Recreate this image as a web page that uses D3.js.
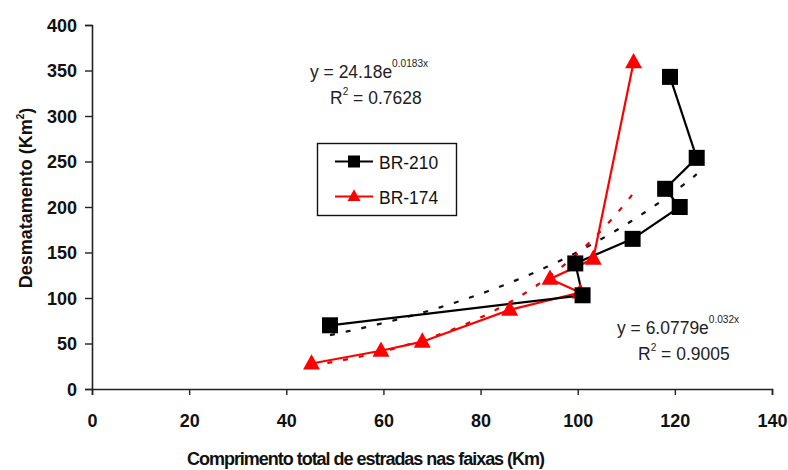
<!DOCTYPE html>
<html><head><meta charset="utf-8">
<script src="https://cdn.jsdelivr.net/npm/d3@7"></script>
<style>
body{margin:0;background:#fff;}
svg{display:block;}
.narrow{font-family:"Liberation Sans Narrow","Arial Narrow","Liberation Sans",sans-serif;}
.bold{font-family:"Liberation Sans",Arial,sans-serif;font-weight:bold;}
</style></head>
<body>
<script>
// ---- data ----
const br210X = [49, 101, 99.5, 111.3, 121, 118, 124.5, 119];
const br210Y = [70, 103, 138, 165, 200, 220, 254, 343];
const br174X = [45.2, 59.5, 68, 86, 100.5, 94.3, 103.2, 111.5];
const br174Y = [28, 42, 52, 87, 106, 121, 143, 359];
const seriesNames = ["BR-210", "BR-174"];
const trendCoef = [24.18, 6.0779];      // y = a * e^(b x)
const trendExp = [0.0183, 0.032];
const trendLabels = ["24.18", "6.0779"];
const trendExpLabels = ["0.0183x", "0.032x"];
const r2Labels = ["0.7628", "0.9005"];
const xTicks = [0, 20, 40, 60, 80, 100, 120, 140];
const yTicks = [0, 50, 100, 150, 200, 250, 300, 350, 400];

const W = 788, H = 470;
const svg = d3.select("body").append("svg").attr("width", W).attr("height", H);
const x = d3.scaleLinear().domain([0, 140]).range([92, 772]);
const y = d3.scaleLinear().domain([0, 400]).range([389, 25]);

// axes
const xAxis = d3.axisBottom(x).tickValues(xTicks).tickSize(6).tickPadding(19);
const yAxis = d3.axisLeft(y).tickValues(yTicks).tickSize(7).tickPadding(8);
const gx = svg.append("g").attr("transform", "translate(0,389)").call(xAxis);
const gy = svg.append("g").attr("transform", "translate(92,0)").call(yAxis);
[gx, gy].forEach(g => {
  g.select(".domain").attr("stroke", "#222").attr("stroke-width", 1.6);
  g.selectAll(".tick line").attr("stroke", "#222").attr("stroke-width", 1.4);
  g.selectAll(".tick text").attr("class", "bold").attr("font-size", 18).attr("fill", "#111");
});
gy.selectAll(".tick text").attr("dy", "0.36em");

// axis titles
svg.append("text").attr("class", "bold").attr("x", 366).attr("y", 465)
  .attr("text-anchor", "middle").attr("font-size", 18).attr("fill", "#111")
  .attr("textLength", 358).attr("lengthAdjust", "spacing")
  .text("Comprimento total de estradas nas faixas (Km)");
const yt = svg.append("text").attr("class", "bold")
  .attr("transform", "translate(32,198) rotate(-90)")
  .attr("text-anchor", "middle").attr("font-size", 18).attr("fill", "#111");
yt.append("tspan").text("Desmatamento (Km");
yt.append("tspan").attr("font-size", 10).attr("dy", -8).text("2");
yt.append("tspan").attr("dy", 8).text(")");

// trend lines (dashed exponential fits)
const trendColors = ["#111", "#e00000"];
const xsets = [br210X, br174X];
[0, 1].forEach(i => {
  const [lo, hi] = d3.extent(xsets[i]);
  const pts = d3.range(0, 101).map(k => lo + (hi - lo) * k / 100)
    .map(v => [v, trendCoef[i] * Math.exp(trendExp[i] * v)]);
  svg.append("path")
    .attr("d", d3.line().x(d => x(d[0])).y(d => y(d[1]))(pts))
    .attr("fill", "none").attr("stroke", trendColors[i])
    .attr("stroke-width", 2.2).attr("stroke-dasharray", "5,11");
});

// series lines
const line = d3.line().x(d => x(d[0])).y(d => y(d[1]));
const d210 = br210X.map((v, i) => [v, br210Y[i]]);
const d174 = br174X.map((v, i) => [v, br174Y[i]]);
svg.append("path").attr("d", line(d174)).attr("fill", "none")
  .attr("stroke", "#ff0000").attr("stroke-width", 2.2);
svg.append("path").attr("d", line(d210)).attr("fill", "none")
  .attr("stroke", "#000").attr("stroke-width", 2.2);

// markers
const tri = (s) => `M0,${-0.55*s}L${0.5*s},${0.35*s}L${-0.5*s},${0.35*s}Z`;
svg.selectAll(".tri").data(d174).join("path").attr("class", "tri")
  .attr("transform", d => `translate(${x(d[0])},${y(d[1])})`)
  .attr("d", tri(17)).attr("fill", "#ff0000");
svg.selectAll(".sq").data(d210).join("rect").attr("class", "sq")
  .attr("x", d => x(d[0]) - 8).attr("y", d => y(d[1]) - 8)
  .attr("width", 16).attr("height", 16).attr("fill", "#000");

// legend
const lg = svg.append("g");
lg.append("rect").attr("x", 317.5).attr("y", 143.5).attr("width", 139).attr("height", 72)
  .attr("fill", "#fff").attr("stroke", "#111").attr("stroke-width", 1.4);
const legY = [161.5, 196.5];
const legCol = ["#000", "#ff0000"];
[0, 1].forEach(i => {
  lg.append("line").attr("x1", 335).attr("x2", 373).attr("y1", legY[i]).attr("y2", legY[i])
    .attr("stroke", legCol[i]).attr("stroke-width", 2.2);
  if (i === 0) {
    lg.append("rect").attr("x", 348).attr("y", legY[i] - 6).attr("width", 12).attr("height", 12).attr("fill", "#000");
  } else {
    lg.append("path").attr("transform", `translate(354,${legY[i]})`).attr("d", tri(13)).attr("fill", "#ff0000");
  }
  lg.append("g").attr("transform", `translate(379,${legY[i] + 7}) scale(0.92,1)`)
    .append("text").attr("class", "narrow").attr("font-size", 19).attr("fill", "#111").text(seriesNames[i]);
});

// equation labels
const eqPos = [[310, 78, 330, 104], [617, 334, 638, 360]];
[0, 1].forEach(i => {
  const [ex, ey, rx, ry] = eqPos[i];
  const t = svg.append("g").attr("transform", `translate(${ex},${ey}) scale(0.92,1)`)
    .append("text").attr("class", "narrow").attr("font-size", 19).attr("fill", "#222");
  t.append("tspan").text("y = " + trendLabels[i] + "e");
  t.append("tspan").attr("font-size", 11).attr("dy", -11).text(trendExpLabels[i]);
  const r = svg.append("g").attr("transform", `translate(${rx},${ry}) scale(0.92,1)`)
    .append("text").attr("class", "narrow").attr("font-size", 19).attr("fill", "#222");
  r.append("tspan").text("R");
  r.append("tspan").attr("font-size", 11).attr("dy", -9).text("2");
  r.append("tspan").attr("dy", 9).text(" = " + r2Labels[i]);
});
</script>
</body></html>
